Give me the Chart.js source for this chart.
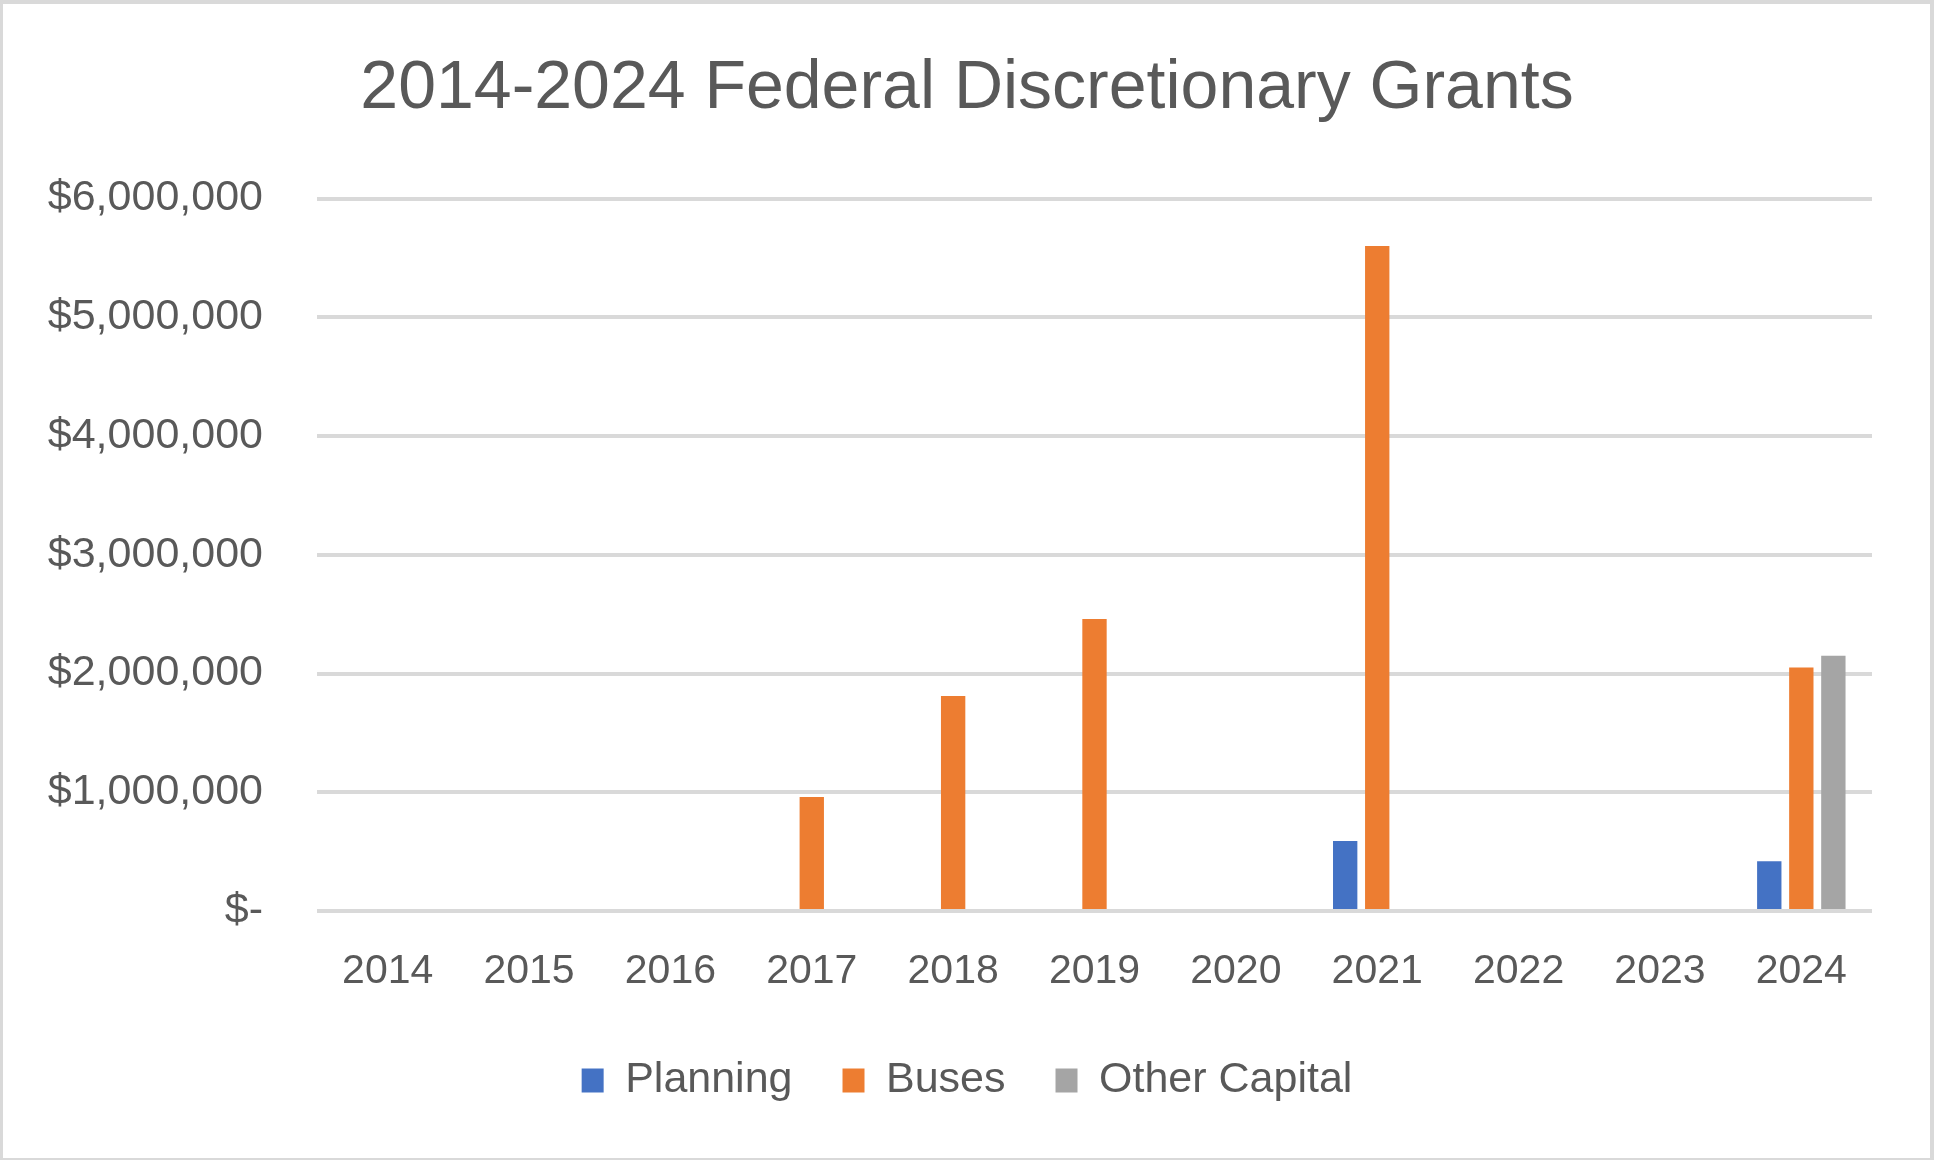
<!DOCTYPE html>
<html>
<head>
<meta charset="utf-8">
<title>2014-2024 Federal Discretionary Grants</title>
<script src="https://cdn.jsdelivr.net/npm/chart.js@4.4.1/dist/chart.umd.min.js"></script>
<style>
  html, body { margin: 0; padding: 0; background: #ffffff; }
  canvas { display: block; }
</style>
</head>
<body>
<canvas id="grantsChart" width="1934" height="1160"></canvas>
<script>
// Chart data
const years = ['2014', '2015', '2016', '2017', '2018', '2019', '2020', '2021', '2022', '2023', '2024'];
const planning = [null, null, null, null, null, null, null, 590000, null, null, 420000];
const buses = [null, null, null, 960000, 1810000, 2460000, null, 5600000, null, null, 2050000];
const otherCapital = [null, null, null, null, null, null, null, null, null, null, 2150000];
const yTickLabels = ['$-', '$1,000,000', '$2,000,000', '$3,000,000', '$4,000,000', '$5,000,000', '$6,000,000'];

const textColor = '#595959';
const gridColor = '#d9d9d9';

Chart.defaults.font.family = "'Liberation Sans', Arial, sans-serif";
Chart.defaults.color = textColor;

// White background and the thin grey frame around the whole chart
const framePlugin = {
  id: 'frame',
  beforeDraw(chart) {
    const ctx = chart.ctx;
    ctx.save();
    ctx.fillStyle = '#ffffff';
    ctx.fillRect(0, 0, chart.width, chart.height);
    ctx.restore();
  },
  afterDraw(chart) {
    const ctx = chart.ctx;
    const w = chart.width, h = chart.height;
    ctx.save();
    ctx.fillStyle = gridColor;
    ctx.fillRect(0, 0, w, 4);
    ctx.fillRect(0, 0, 3, h);
    ctx.fillRect(w - 4, 0, 4, h);
    ctx.fillRect(0, h - 2, w, 2);
    ctx.restore();
  }
};

const ctx = document.getElementById('grantsChart').getContext('2d');

const grantsChart = new Chart(ctx, {
  type: 'bar',
  data: {
    labels: years,
    datasets: [
      {
        label: 'Planning',
        data: planning,
        backgroundColor: '#4472c4',
        borderWidth: 0
      },
      {
        label: 'Buses',
        data: buses,
        backgroundColor: '#ed7d31',
        borderWidth: 0
      },
      {
        label: 'Other Capital',
        data: otherCapital,
        backgroundColor: '#a5a5a5',
        borderWidth: 0
      }
    ]
  },
  options: {
    responsive: false,
    animation: false,
    categoryPercentage: 0.68,
    barPercentage: 0.76,
    layout: {
      padding: { top: 0, right: 0, bottom: 48, left: 0 }
    },
    plugins: {
      title: {
        display: true,
        text: '2014-2024 Federal Discretionary Grants',
        color: textColor,
        font: { size: 68, weight: 'normal' },
        padding: { top: 48, bottom: 69 }
      },
      legend: {
        display: true,
        position: 'bottom',
        labels: {
          color: textColor,
          font: { size: 43 },
          boxWidth: 22,
          boxHeight: 24,
          padding: 50
        }
      },
      tooltip: { enabled: false }
    },
    scales: {
      x: {
        grid: { display: false, drawTicks: false },
        border: { display: false },
        ticks: {
          color: textColor,
          font: { size: 41 },
          padding: 36,
          maxRotation: 0
        },
        afterFit: function(scale) {
          scale.height = 98;
        }
      },
      y: {
        min: 0,
        max: 6000000,
        grid: {
          color: gridColor,
          lineWidth: 4,
          drawTicks: false
        },
        border: { display: false },
        ticks: {
          stepSize: 1000000,
          color: textColor,
          font: { size: 43 },
          padding: 54,
          callback: function(value) {
            return yTickLabels[Math.round(value / 1000000)];
          }
        },
        afterFit: function(scale) {
          scale.width = 317;
        }
      },
      // empty strip on the right so title and legend stay centred on the whole chart
      yRight: {
        type: 'linear',
        position: 'right',
        min: 0,
        max: 6000000,
        grid: { display: false, drawTicks: false },
        border: { display: false },
        ticks: { display: false },
        afterFit: function(scale) {
          scale.width = 62;
        }
      }
    }
  },
  plugins: [framePlugin]
});
</script>
</body>
</html>
